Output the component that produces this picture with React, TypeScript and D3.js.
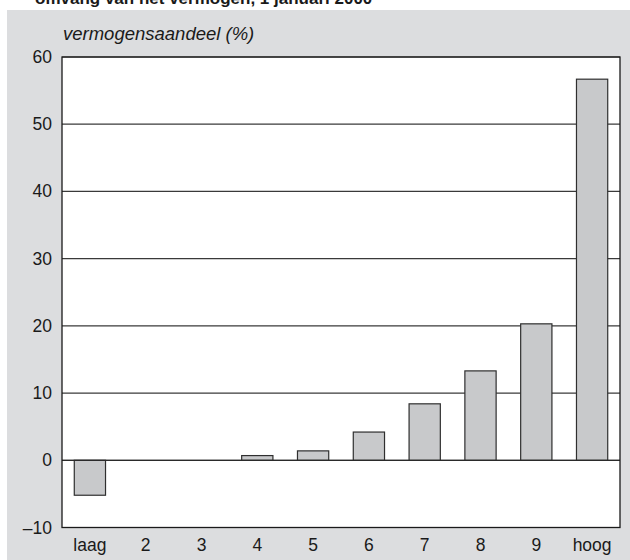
import React from "react";
import * as d3 from "d3";

const categories = ["laag", "2", "3", "4", "5", "6", "7", "8", "9", "hoog"];
const shares = [-5.2, 0, 0, 0.7, 1.4, 4.2, 8.4, 13.3, 20.3, 56.7];
const yTicks = [-10, 0, 10, 20, 30, 40, 50, 60];
const yLabel = "vermogensaandeel (%)";
const title = "omvang van het vermogen, 1 januari 2000";

const W = 630;
const H = 560;
const plot = { left: 62, right: 620, top: 57, bottom: 527.5 };
const font = "'Liberation Sans', Arial, Helvetica, sans-serif";

const fmt = (v: number) => (v < 0 ? "\u2013" + Math.abs(v) : String(v));

export default function App() {
  const x = d3
    .scaleBand<string>()
    .domain(categories)
    .range([plot.left, plot.right])
    .paddingInner(0.44)
    .paddingOuter(0.22);
  const y = d3.scaleLinear().domain([-10, 60]).range([plot.bottom, plot.top]);

  return (
    <svg
      width={W}
      height={H}
      style={{ position: "absolute", left: 0, top: 0, background: "#ffffff" }}
      fontFamily={font}
    >
      <text x={35} y={4} fontSize={17} fontWeight="bold" fill="#1a1a1a">
        {title}
      </text>
      <rect x={7} y={10} width={W - 7} height={H - 10} fill="#dcdddf" />
      <rect
        x={plot.left}
        y={plot.top}
        width={plot.right - plot.left}
        height={plot.bottom - plot.top}
        fill="#ffffff"
      />
      {yTicks.map((t) => (
        <g key={t}>
          <line
            x1={plot.left}
            x2={plot.right}
            y1={y(t)}
            y2={y(t)}
            stroke="#3a3a3a"
            strokeWidth={1.2}
          />
          <text
            x={52}
            y={y(t)}
            textAnchor="end"
            dominantBaseline="central"
            fontSize={17.5}
            fill="#1a1a1a"
          >
            {fmt(t)}
          </text>
        </g>
      ))}
      {categories.map((c, i) => {
        const v = shares[i];
        if (v === 0) return null;
        const y0 = y(0);
        const y1 = y(v);
        return (
          <rect
            key={c}
            x={x(c)}
            y={Math.min(y0, y1)}
            width={x.bandwidth()}
            height={Math.abs(y1 - y0)}
            fill="#c8c9cb"
            stroke="#2f2f2f"
            strokeWidth={1.2}
          />
        );
      })}
      <line x1={plot.left} x2={plot.right} y1={y(0)} y2={y(0)} stroke="#2a2a2a" strokeWidth={1.3} />
      <rect
        x={plot.left}
        y={plot.top}
        width={plot.right - plot.left}
        height={plot.bottom - plot.top}
        fill="none"
        stroke="#1a1a1a"
        strokeWidth={1.3}
      />
      {categories.map((c) => (
        <text
          key={c}
          x={(x(c) as number) + x.bandwidth() / 2}
          y={551}
          textAnchor="middle"
          fontSize={17.5}
          fill="#1a1a1a"
        >
          {c}
        </text>
      ))}
      <text x={63} y={40} fontSize={18.5} fontStyle="italic" fill="#1a1a1a">
        {yLabel}
      </text>
    </svg>
  );
}
